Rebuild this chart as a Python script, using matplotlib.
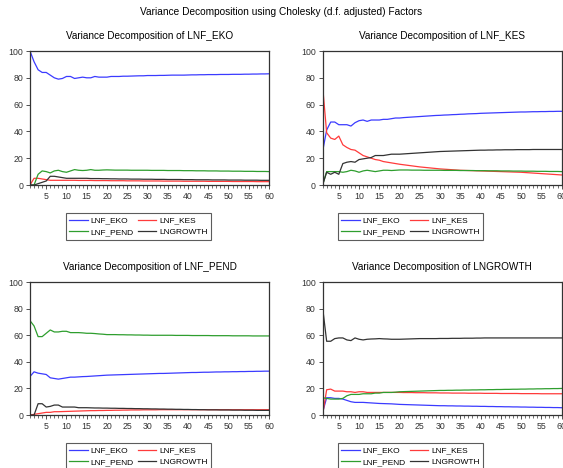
import matplotlib
matplotlib.use("Agg")
import matplotlib.pyplot as plt
from matplotlib.ticker import MultipleLocator

plt.rcParams["font.family"] = ["Liberation Sans", "DejaVu Sans"]

periods = list(range(1, 61))
names = ["LNF_EKO", "LNF_KES", "LNF_PEND", "LNGROWTH"]
colors = ["#3b3bff", "#ff3b3b", "#2e9e2e", "#333333"]

# 1. shock response of LNF_EKO
eko_eko = [100, 92, 86, 84, 84, 82, 80, 79, 79.5, 81, 81, 79.5, 80, 80.5, 80, 80, 81, 80.5, 80.5, 80.5,
           81, 81, 81, 81.2, 81.2, 81.3, 81.4, 81.5, 81.5, 81.7, 81.7, 81.7, 81.8, 81.8, 81.9, 82, 82, 82, 82, 82.1,
           82.2, 82.2, 82.3, 82.3, 82.4, 82.4, 82.4, 82.5, 82.5, 82.5, 82.6, 82.6, 82.6, 82.7, 82.7, 82.8, 82.8, 82.9, 82.9, 83]
eko_kes = [0, 5, 5, 4.5, 4, 3.5, 3.5, 3.5, 3.5, 3.5, 3.5, 3.5, 3.4, 3.4, 3.4, 3.4, 3.3, 3.3, 3.3, 3.3,
           3.2, 3.2, 3.2, 3.2, 3.1, 3.1, 3.1, 3.1, 3.0, 3.0, 3.0, 3.0, 3.0, 2.9, 2.9, 2.9, 2.9, 2.9, 2.8, 2.8,
           2.8, 2.8, 2.8, 2.8, 2.7, 2.7, 2.7, 2.7, 2.7, 2.7, 2.6, 2.6, 2.6, 2.6, 2.6, 2.6, 2.5, 2.5, 2.5, 2.5]
eko_pend = [0, 0, 8, 10.5, 10, 9, 10.5, 11, 10, 9.5, 10.5, 11.5, 11, 10.8, 11, 11.5, 11, 11, 11.2, 11.3,
            11.2, 11.1, 11.1, 11.1, 11.1, 11, 11, 11, 11, 11, 10.9, 10.9, 10.9, 10.9, 10.8, 10.8, 10.8, 10.8, 10.7, 10.7,
            10.7, 10.6, 10.6, 10.6, 10.5, 10.5, 10.5, 10.4, 10.4, 10.4, 10.3, 10.3, 10.3, 10.2, 10.2, 10.2, 10.1, 10.1, 10.1, 10]
eko_growth = [0, 0, 1, 2, 3, 6.5, 6.5, 6, 5.5, 5, 5, 5, 5, 5, 5, 4.8, 4.8, 4.8, 4.7, 4.7,
              4.6, 4.6, 4.5, 4.5, 4.5, 4.4, 4.4, 4.4, 4.3, 4.3, 4.3, 4.2, 4.2, 4.2, 4.1, 4.1, 4.1, 4.1, 4.0, 4.0,
              4.0, 3.9, 3.9, 3.9, 3.9, 3.8, 3.8, 3.8, 3.8, 3.7, 3.7, 3.7, 3.7, 3.6, 3.6, 3.6, 3.6, 3.5, 3.5, 3.5]

# 2. LNF_KES
kes_eko = [25, 41, 47, 47, 45, 45, 45, 44, 46.5, 48, 48.5, 47.5, 48.5, 48.5, 48.5, 49, 49, 49.5, 50, 50,
           50.3, 50.5, 50.7, 50.9, 51.1, 51.3, 51.5, 51.7, 51.9, 52, 52.2, 52.3, 52.5, 52.6, 52.8, 52.9, 53.1, 53.2, 53.3, 53.5,
           53.6, 53.7, 53.8, 53.9, 54, 54.1, 54.2, 54.3, 54.4, 54.5, 54.5, 54.6, 54.7, 54.7, 54.8, 54.8, 54.9, 54.9, 55, 55]
kes_kes = [74, 39, 35, 34, 36.5, 30, 28, 26.5, 26, 24, 22, 21, 20, 19, 18.5, 17.5, 17, 16.5, 16, 15.5,
           15.1, 14.7, 14.3, 13.9, 13.5, 13.2, 12.9, 12.6, 12.3, 12, 11.8, 11.6, 11.4, 11.2, 11, 10.9, 10.8, 10.7, 10.6, 10.5,
           10.4, 10.3, 10.2, 10.1, 10, 9.9, 9.8, 9.7, 9.6, 9.5, 9.3, 9.1, 8.9, 8.7, 8.5, 8.3, 8.1, 7.9, 7.7, 7.5]
kes_pend = [0, 10, 10, 10, 10, 9.5, 10, 11, 10.5, 9.5, 10.5, 11, 10.5, 10, 10.5, 11, 11, 10.8, 11, 11.2,
            11.2, 11.2, 11.1, 11.1, 11.1, 11, 11, 11, 11, 11, 10.9, 10.9, 10.9, 10.9, 10.8, 10.8, 10.8, 10.8, 10.7, 10.7,
            10.7, 10.6, 10.6, 10.6, 10.5, 10.5, 10.5, 10.4, 10.4, 10.4, 10.3, 10.3, 10.3, 10.2, 10.2, 10.2, 10.1, 10.1, 10.1, 10]
kes_growth = [0, 9.5, 8, 9.5, 8, 16, 17, 17.5, 17, 19, 19.5, 20, 20.5, 22, 22, 22, 22.5, 23, 23, 23,
              23.2, 23.4, 23.6, 23.8, 24, 24.2, 24.4, 24.6, 24.8, 25, 25.1, 25.2, 25.3, 25.4, 25.5, 25.6, 25.7, 25.8, 25.9, 26,
              26, 26.1, 26.1, 26.2, 26.2, 26.3, 26.3, 26.3, 26.4, 26.4, 26.4, 26.4, 26.5, 26.5, 26.5, 26.5, 26.5, 26.5, 26.5, 26.5]

# 3. LNF_PEND
pend_eko = [29, 32.5, 31.5, 31, 30.5, 28, 27.5, 27, 27.5, 28, 28.5, 28.5, 28.7, 28.9, 29, 29.2, 29.4, 29.6, 29.8, 30,
            30.1, 30.2, 30.3, 30.4, 30.5, 30.6, 30.7, 30.8, 30.9, 31, 31.1, 31.2, 31.3, 31.3, 31.4, 31.5, 31.6, 31.7, 31.8, 31.9,
            32, 32, 32.1, 32.2, 32.2, 32.3, 32.4, 32.4, 32.5, 32.5, 32.6, 32.6, 32.7, 32.7, 32.8, 32.8, 32.9, 32.9, 33, 33]
pend_kes = [0, 0.5, 1, 1.5, 2, 2, 2.5, 2.5, 2.6, 2.7, 2.8, 2.9, 3, 3.1, 3.2, 3.3, 3.3, 3.4, 3.4, 3.5,
            3.5, 3.6, 3.6, 3.7, 3.7, 3.8, 3.8, 3.8, 3.9, 3.9, 3.9, 3.9, 4, 4, 4, 4, 4, 4, 4, 4,
            4, 4, 4, 4, 4, 4, 4, 4, 4, 4, 4, 4, 4, 4, 4, 4, 4, 4, 4, 4]
pend_pend = [71, 67, 59, 59, 61.5, 64, 62.5, 62.5, 63, 63, 62, 62, 62, 61.8, 61.5, 61.5, 61.3, 61, 60.8, 60.5,
             60.5, 60.5, 60.4, 60.4, 60.3, 60.3, 60.2, 60.2, 60.1, 60.1, 60, 60, 60, 60, 60, 60, 59.9, 59.9, 59.9, 59.9,
             59.8, 59.8, 59.8, 59.8, 59.8, 59.7, 59.7, 59.7, 59.7, 59.7, 59.6, 59.6, 59.6, 59.6, 59.6, 59.5, 59.5, 59.5, 59.5, 59.5]
pend_growth = [0, 0, 8.5, 8.5, 6, 6.5, 7.5, 7.5, 6, 6, 6, 6, 5.5, 5.5, 5.5, 5.4, 5.3, 5.3, 5.2, 5.2,
               5.1, 5.1, 5, 5, 4.9, 4.9, 4.8, 4.8, 4.7, 4.7, 4.6, 4.6, 4.5, 4.5, 4.4, 4.4, 4.3, 4.3, 4.2, 4.2,
               4.1, 4.1, 4.0, 4.0, 3.9, 3.9, 3.9, 3.8, 3.8, 3.8, 3.7, 3.7, 3.7, 3.6, 3.6, 3.6, 3.5, 3.5, 3.5, 3.5]

# 4. LNGROWTH
gr_eko = [2, 13, 13, 12.5, 12.5, 12, 11, 10, 9.5, 9.5, 9.5, 9.3, 9.1, 8.9, 8.7, 8.6, 8.5, 8.4, 8.2, 8,
          7.9, 7.8, 7.7, 7.6, 7.5, 7.4, 7.3, 7.2, 7.1, 7, 7, 6.9, 6.9, 6.8, 6.8, 6.7, 6.7, 6.6, 6.6, 6.5,
          6.5, 6.4, 6.4, 6.3, 6.3, 6.2, 6.2, 6.1, 6.1, 6, 6, 5.9, 5.9, 5.8, 5.8, 5.7, 5.7, 5.6, 5.6, 5.5]
gr_kes = [0, 19, 19.5, 18, 18, 18, 17.5, 17.5, 17, 17.5, 17.5, 17, 17, 17, 17, 17, 17, 17, 17, 17,
          16.9, 16.9, 16.9, 16.8, 16.8, 16.8, 16.7, 16.7, 16.7, 16.6, 16.6, 16.6, 16.5, 16.5, 16.5, 16.5, 16.4, 16.4, 16.4, 16.4,
          16.3, 16.3, 16.3, 16.3, 16.2, 16.2, 16.2, 16.2, 16.2, 16.1, 16.1, 16.1, 16.1, 16.1, 16, 16, 16, 16, 16, 16]
gr_pend = [13, 12.5, 12, 12, 12, 12.5, 14.5, 15.5, 15.5, 15.5, 16, 16, 16, 16.5, 16.5, 17, 17, 17, 17.2, 17.5,
           17.6, 17.7, 17.8, 17.9, 18, 18.1, 18.2, 18.3, 18.4, 18.5, 18.5, 18.6, 18.6, 18.7, 18.7, 18.8, 18.8, 18.9, 18.9, 19,
           19, 19.1, 19.1, 19.2, 19.2, 19.3, 19.3, 19.4, 19.4, 19.5, 19.5, 19.6, 19.6, 19.7, 19.7, 19.8, 19.8, 19.9, 19.9, 20]
gr_growth = [81, 55.5, 55.5, 57.5, 58, 58, 56.5, 56, 58, 57, 56.5, 57, 57.2, 57.3, 57.5, 57.3, 57.2, 57, 57, 57,
             57.1, 57.2, 57.3, 57.4, 57.5, 57.5, 57.5, 57.5, 57.5, 57.6, 57.6, 57.6, 57.7, 57.7, 57.7, 57.8, 57.8, 57.8, 57.9, 57.9,
             58, 58, 58, 58, 58, 58, 58, 58, 58, 58, 58, 58, 58, 58, 58, 58, 58, 58, 58, 58]

panels = [
    ("LNF_EKO", [eko_eko, eko_kes, eko_pend, eko_growth]),
    ("LNF_KES", [kes_eko, kes_kes, kes_pend, kes_growth]),
    ("LNF_PEND", [pend_eko, pend_kes, pend_pend, pend_growth]),
    ("LNGROWTH", [gr_eko, gr_kes, gr_pend, gr_growth]),
]

fig = plt.figure(figsize=(5.63, 4.68), dpi=100)
fig.suptitle("Variance Decomposition using Cholesky (d.f. adjusted) Factors",
             fontsize=7.3, x=0.5, y=0.985)

# axes positions (left, bottom, width, height) in figure fractions
positions = [
    (0.0533, 0.6047, 0.4245, 0.2863),
    (0.573, 0.6047, 0.4245, 0.2863),
    (0.0533, 0.1132, 0.4245, 0.284),
    (0.573, 0.1132, 0.4245, 0.284),
]
legend_x = [0.454, 0.368, 0.454, 0.368]

for pos, lx, (title, series) in zip(positions, legend_x, panels):
    ax = fig.add_axes(pos)
    lines = []
    for vals, name, c in zip(series, names, colors):
        ln, = ax.plot(periods, vals, color=c, lw=0.9, label=name)
        lines.append(ln)
    ax.set_xlim(1, 60)
    ax.set_ylim(0, 100)
    ax.set_title("Variance Decomposition of " + title, fontsize=7.2, pad=9)
    ax.xaxis.set_major_locator(MultipleLocator(5))
    ax.xaxis.set_minor_locator(MultipleLocator(1))
    ax.yaxis.set_major_locator(MultipleLocator(20))
    ax.tick_params(axis="both", which="major", labelsize=6.3, length=3, width=0.6, pad=2,
                   colors="#333333")
    ax.tick_params(axis="x", which="minor", length=2, width=0.5, colors="#333333")
    for sp in ax.spines.values():
        sp.set_linewidth(0.9)
        sp.set_color("#333333")
    # legend rows: EKO / KES on top, PEND / GROWTH below
    order = [0, 2, 1, 3]
    leg = ax.legend([lines[i] for i in order], [names[i] for i in order],
                    loc="upper center", bbox_to_anchor=(lx, -0.21), ncol=2,
                    fontsize=6, frameon=True, fancybox=False, edgecolor="#333333",
                    handlelength=2.2, columnspacing=0.5, handletextpad=0.35,
                    labelspacing=0.45, borderpad=0.45, borderaxespad=0)
    leg.get_frame().set_linewidth(0.8)

fig.savefig("out.png", dpi=100)
